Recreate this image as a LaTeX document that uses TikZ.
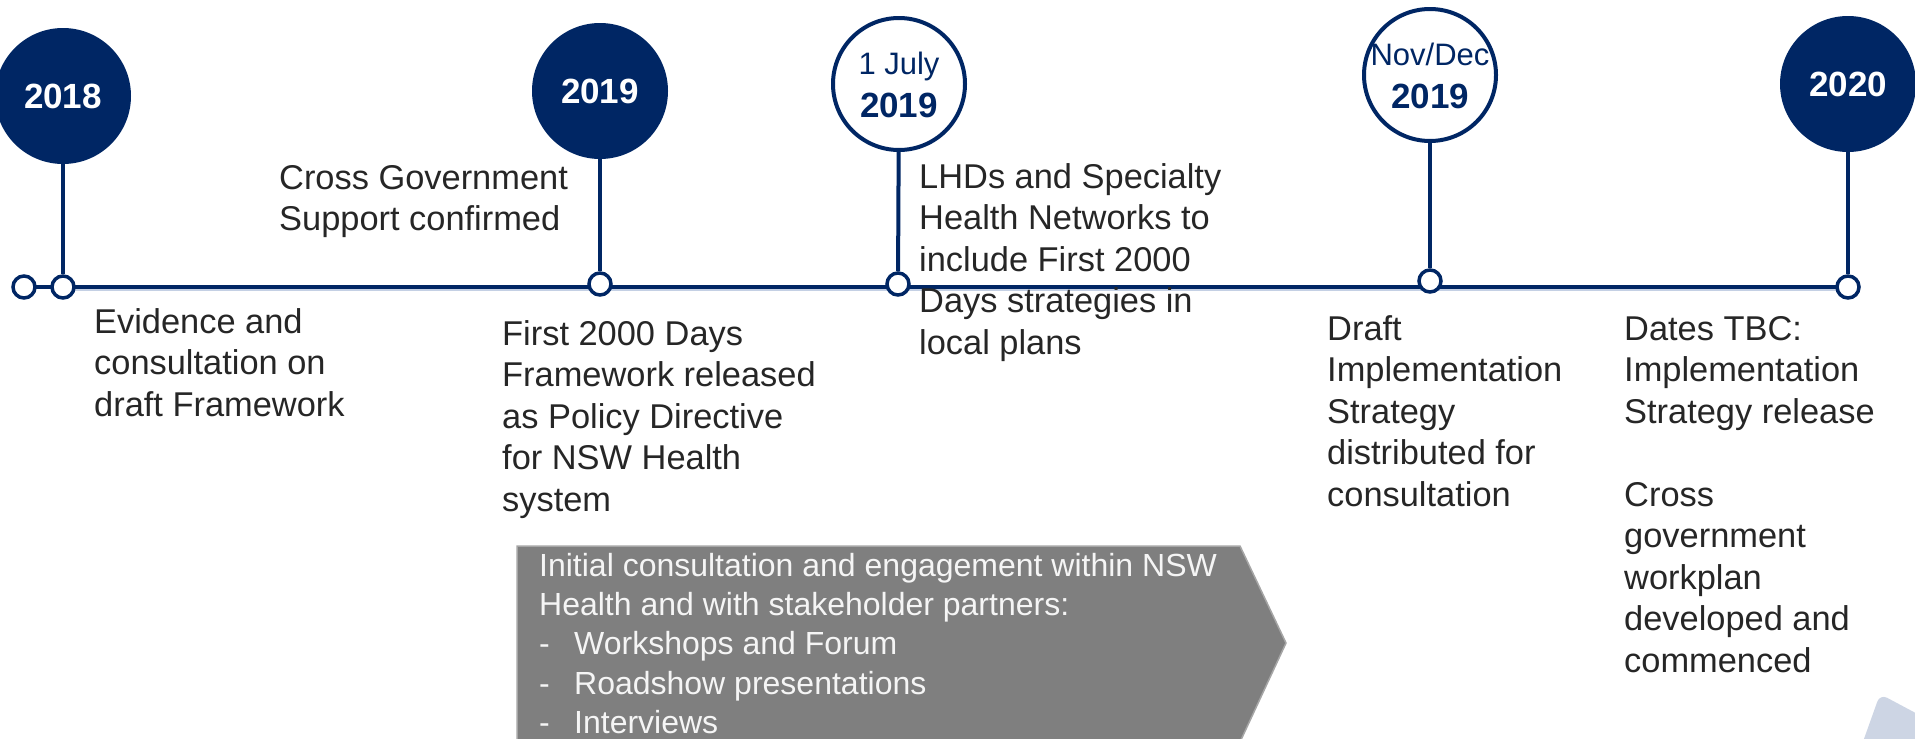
\documentclass[tikz,border=0pt]{standalone}
\usepackage{fontspec}
\setmainfont{Liberation Sans}
\usetikzlibrary{backgrounds}
\definecolor{navy}{HTML}{002664}
\definecolor{txt}{HTML}{262626}
\definecolor{boxgray}{HTML}{7F7F7F}
\definecolor{boxedge}{HTML}{A6A6A6}
\definecolor{boxtext}{HTML}{F5F5F5}
\definecolor{shadowblue}{HTML}{C4D0E4}
\definecolor{cornerblue}{HTML}{CDD5E4}
\begin{document}
\begin{tikzpicture}[x=1pt,y=-1pt,
  yearfill/.style={circle,fill=navy,minimum size=136pt,inner sep=0pt,text=white,
    font=\fontsize{35}{42}\selectfont\bfseries},
  yearring/.style={circle,draw=navy,line width=4pt,fill=white,minimum size=132pt,inner sep=0pt},
  dot/.style={circle,draw=navy,line width=3.5pt,fill=white,minimum size=22pt,inner sep=0pt},
  tl/.style={draw=navy,line width=4pt},
  shadowline/.style={draw=shadowblue,line width=2pt},
  body/.style={anchor=north west,inner sep=0pt,align=left,text=txt,
    font=\fontsize{34.4}{41.5}\selectfont},
  ringsmall/.style={anchor=base,inner sep=0pt,text=navy,font=\fontsize{31}{37}\selectfont},
  ringbold/.style={anchor=base,inner sep=0pt,text=navy,font=\fontsize{35}{42}\selectfont\bfseries},
  boxtxt/.style={anchor=north west,inner sep=0pt,align=left,text=boxtext,
    font=\fontsize{32}{39.3}\selectfont},
]
\useasboundingbox (0,0) rectangle (1915,739);
\clip (0,0) rectangle (1915,739);

% corner decoration
\fill[cornerblue,rounded corners=8pt] (1860,750) -- (1880,694) -- (1925,718) -- (1925,750) -- cycle;

% grey chevron
\draw[fill=boxgray,draw=boxedge,line width=1.5pt]
  (517,546) -- (1240,546) -- (1286,643) -- (1240,742) -- (517,742) -- cycle;
\node[boxtxt] (boxt) at (539,548.5) {\strut Initial consultation and engagement within NSW\\
  Health and with stakeholder partners:\\
  \makebox[35pt][l]{-}Workshops and Forum\\
  \makebox[35pt][l]{-}Roadshow presentations\\
  \makebox[35pt][l]{-}Interviews};

% timeline dots
\node[dot] (d0) at (24,287) {};
\node[dot] (d1) at (63,287) {};
\node[dot] (d2) at (600,284) {};
\node[dot] (d3) at (898,284) {};
\node[dot] (d4) at (1430,281) {};
\node[dot] (d5) at (1848,287) {};

% timeline (behind the dots)
\begin{pgfonlayer}{background}
\draw[shadowline] ([yshift=-3pt]d1.center) -- ([yshift=-3pt]d5.center);
\draw[tl] (d0.center) -- (d5.center);
\end{pgfonlayer}

% year markers
\node[yearfill] (y18) at (63,96) {2018};
\node[yearfill] (y19) at (600,91) {2019};
\node[yearring] (yjul) at (899,84) {};
\node[ringsmall] (tjul) at (899,74) {1 July};
\node[ringbold] (tjuly) at (899,117) {2019};
\node[yearring] (ynov) at (1430,75) {};
\node[ringsmall] (tnov) at (1430,65) {Nov/Dec};
\node[ringbold] (tnovy) at (1430,108) {2019};
\node[yearfill] (y20) at (1848,84) {2020};

% stems
\draw[tl] (y18) -- (d1);
\draw[tl] (y19) -- (d2);
\draw[tl] (yjul) -- (d3);
\draw[tl] (ynov) -- (d4);
\draw[tl] (y20) -- (d5);

% texts
\node[body] (cross) at (279,160) {\strut Cross Government\\Support confirmed};
\node[body] (evid) at (94,304) {\strut Evidence and\\consultation on\\draft Framework};
\node[body] (first) at (502,316) {\strut First 2000 Days\\Framework released\\as Policy Directive\\for NSW Health\\system};
\node[body] (lhds) at (919,159) {\strut LHDs and Specialty\\Health Networks to\\include First 2000\\Days strategies in\\local plans};
\node[body] (draft) at (1327,311) {\strut Draft\\Implementation\\Strategy\\distributed for\\consultation};
\node[body] (dates) at (1624,311) {\strut Dates TBC:\\Implementation\\Strategy release\\[41.5pt]Cross\\government\\workplan\\developed and\\commenced};
\end{tikzpicture}
\end{document}
